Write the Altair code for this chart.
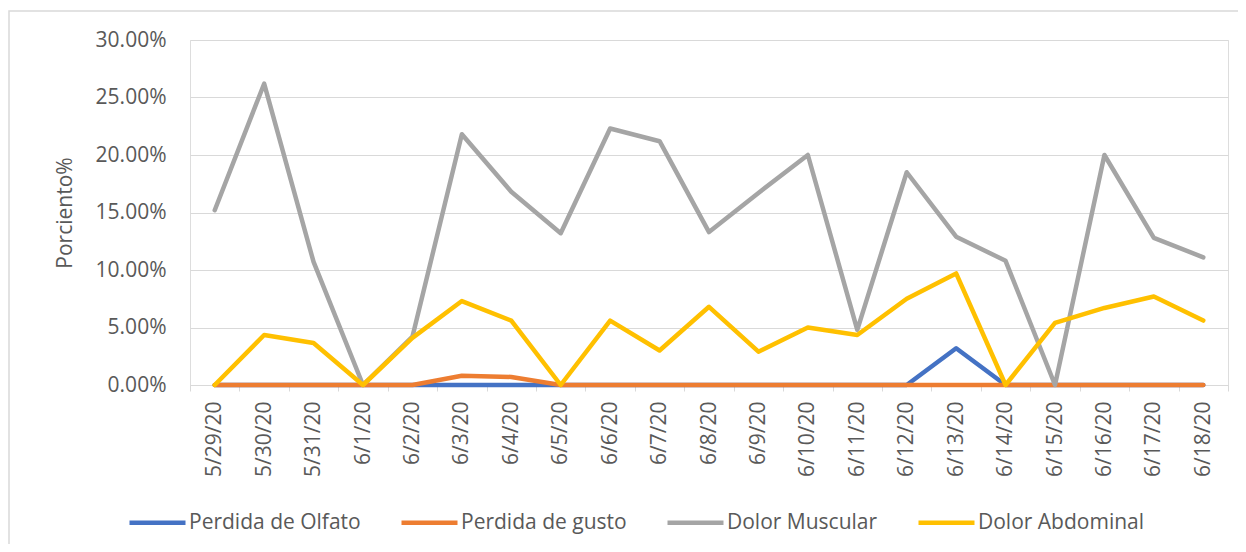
import altair as alt
import pandas as pd

dates = ["5/29/20", "5/30/20", "5/31/20", "6/1/20", "6/2/20", "6/3/20", "6/4/20",
         "6/5/20", "6/6/20", "6/7/20", "6/8/20", "6/9/20", "6/10/20", "6/11/20",
         "6/12/20", "6/13/20", "6/14/20", "6/15/20", "6/16/20", "6/17/20", "6/18/20"]

series_names = ["Perdida de Olfato", "Perdida de gusto", "Dolor Muscular", "Dolor Abdominal"]
series_colors = ["#4472C4", "#ED7D31", "#A5A5A5", "#FFC000"]

perdida_olfato = [0, 0, 0, 0, 0, 0, 0, 0, 0, 0, 0, 0, 0, 0, 0, 0.032, 0, 0, 0, 0, 0]
perdida_gusto = [0, 0, 0, 0, 0, 0.008, 0.007, 0, 0, 0, 0, 0, 0, 0, 0, 0, 0, 0, 0, 0, 0]
dolor_muscular = [0.152, 0.262, 0.107, 0, 0.042, 0.218, 0.168, 0.132, 0.223, 0.212, 0.133,
                  0.167, 0.200, 0.048, 0.185, 0.129, 0.108, 0, 0.200, 0.128, 0.111]
dolor_abdominal = [0, 0.0435, 0.0365, 0, 0.041, 0.073, 0.056, 0, 0.056, 0.030, 0.068,
                   0.029, 0.050, 0.0435, 0.075, 0.097, 0, 0.054, 0.067, 0.077, 0.056]

y_ticks = [0, 0.05, 0.10, 0.15, 0.20, 0.25, 0.30]

all_values = [perdida_olfato, perdida_gusto, dolor_muscular, dolor_abdominal]
rows = []
for name, vals in zip(series_names, all_values):
    for d, v in zip(dates, vals):
        rows.append({"fecha": d, "serie": name, "valor": v})
df = pd.DataFrame(rows)

FONT = "Open Sans"
TXT = "#595959"
GRID = "#D9D9D9"
FS = 21

color = alt.Color(
    "serie:N",
    scale=alt.Scale(domain=series_names, range=series_colors),
    legend=alt.Legend(
        title=None,
        orient="none",
        legendX=-63,
        legendY=452,
        direction="horizontal",
        columns=4,
        columnPadding=31,
        symbolType="stroke",
        symbolSize=3136,
        symbolStrokeWidth=4.5,
        labelOffset=1,
        labelFont=FONT,
        labelFontSize=FS,
        labelColor=TXT,
        labelLimit=400,
    ),
)

x = alt.X(
    "fecha:N",
    sort=dates,
    bandPosition=0.5,
    scale=alt.Scale(type="band", paddingInner=0, paddingOuter=0),
    axis=alt.Axis(
        title=None,
        labelAngle=-90,
        tickBand="extent",
        tickSize=6,
        tickColor=GRID,
        domainColor=GRID,
        grid=False,
        labelPadding=10,
        labelFont=FONT,
        labelFontSize=FS,
        labelColor=TXT,
    ),
)

y = alt.Y(
    "valor:Q",
    scale=alt.Scale(domain=[0, 0.30], nice=False),
    axis=alt.Axis(
        title="Porciento%",
        values=y_ticks,
        format=".2%",
        ticks=False,
        domain=False,
        gridColor=GRID,
        labelPadding=24,
        labelFont=FONT,
        labelFontSize=FS,
        labelColor=TXT,
        titleFont=FONT,
        titleFontSize=FS,
        titleFontWeight="normal",
        titleColor=TXT,
        titlePadding=20,
    ),
)

layers = []
for name in series_names:
    layers.append(
        alt.Chart(df)
        .transform_filter(alt.datum.serie == name)
        .mark_line(strokeWidth=4.5, strokeCap="round", strokeJoin="round")
        .encode(x=x, y=y, color=color)
    )

border = alt.Chart(pd.DataFrame({"k": [0]})).mark_rect(
    fill=None, stroke=GRID, strokeWidth=1.5
).encode(x=alt.value(-181), x2=alt.value(1100), y=alt.value(-29), y2=alt.value(600))

chart = alt.layer(border, *layers).properties(
    width=1038,
    height=345,
    autosize=alt.AutoSizeParams(type="none"),
    padding={"left": 182, "top": 32, "right": 10, "bottom": 159},
).configure_view(stroke=None).configure(background="white")

chart.save("out.html", embed_options={"renderer": "svg", "actions": False})
